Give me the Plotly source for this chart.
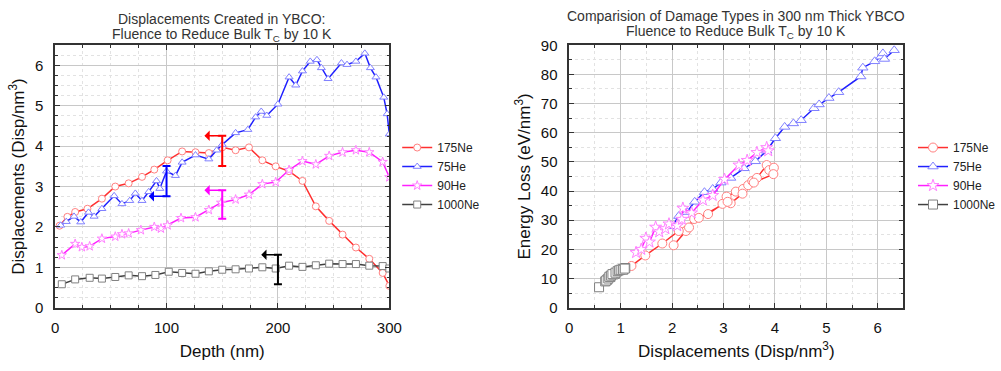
import plotly.graph_objects as go

# ---------------- Left chart data: displacements vs depth ----------------
ne175_depth = [4, 11, 18, 29, 42, 54, 66, 78, 89, 101, 114, 126, 138, 150, 162, 174, 186, 198, 210, 222, 234, 246, 258, 270, 282, 294, 300]
ne175_disp = [2.03, 2.25, 2.37, 2.45, 2.70, 3.00, 3.08, 3.24, 3.42, 3.65, 3.87, 3.85, 3.83, 3.97, 3.90, 3.97, 3.65, 3.50, 3.38, 3.14, 2.51, 2.15, 1.81, 1.49, 1.21, 0.86, 0.54]

he75_depth = [5, 10, 17, 23, 30, 35, 42, 53, 60, 67, 72, 78, 84, 91, 94, 100, 108, 114, 126, 138, 145, 150, 162, 173, 180, 185, 190, 200, 210, 216, 222, 229, 235, 239, 245, 257, 262, 270, 278, 283, 288, 295, 298, 300]
he75_disp = [2.04, 2.13, 2.26, 2.12, 2.36, 2.26, 2.45, 2.77, 2.57, 2.65, 2.83, 2.65, 2.87, 3.14, 2.95, 3.38, 3.27, 3.60, 3.78, 3.68, 3.90, 4.04, 4.33, 4.41, 4.72, 4.86, 4.76, 5.04, 5.71, 5.51, 5.86, 6.10, 6.14, 5.94, 5.67, 6.06, 6.02, 6.10, 6.30, 5.94, 5.71, 5.21, 4.80, 4.30]

he90_depth = [6, 18, 24, 31, 42, 54, 60, 66, 77, 89, 95, 101, 113, 126, 138, 149, 162, 174, 186, 198, 210, 222, 234, 246, 258, 270, 282, 294, 300]
he90_disp = [1.30, 1.58, 1.50, 1.52, 1.71, 1.76, 1.82, 1.84, 1.92, 2.00, 1.96, 2.04, 2.22, 2.24, 2.42, 2.60, 2.68, 2.80, 3.06, 3.11, 3.41, 3.63, 3.55, 3.76, 3.85, 3.90, 3.85, 3.61, 3.23]

ne1000_depth = [6, 18, 31, 42, 54, 66, 78, 90, 102, 114, 126, 138, 150, 162, 174, 186, 198, 210, 222, 234, 246, 258, 270, 282, 294, 300]
ne1000_disp = [0.58, 0.70, 0.74, 0.72, 0.76, 0.80, 0.78, 0.81, 0.89, 0.86, 0.84, 0.90, 0.94, 0.95, 0.97, 1.00, 0.97, 1.04, 1.01, 1.05, 1.09, 1.08, 1.08, 1.04, 1.03, 0.97]

# Error-bar markers with arrows (left chart)
err_x = [150, 100, 150, 200]
err_lo = [3.51, 2.76, 2.20, 0.58]
err_hi = [4.26, 3.51, 2.91, 1.31]
arrow_y = [4.26, 2.76, 2.91, 1.31]
arrow_head_x = [134, 84, 134, 185]
err_colors = ["#ff0000", "#0000ff", "#ff00ff", "#000000"]

# ---------------- Right chart data: energy loss vs displacements ----------------
ne175_rx = [2.03, 2.27, 2.33, 2.43, 2.70, 2.98, 3.06, 3.24, 3.38, 3.48, 3.56, 3.65, 3.84, 3.89, 3.98, 3.97, 3.59, 3.37, 3.14, 3.08, 2.52, 2.13, 1.81, 1.48, 1.21]
ne175_ry = [21.4, 26.3, 27.5, 30.4, 32.1, 35.6, 38.1, 39.8, 40.7, 42.0, 43.4, 44.5, 48.9, 47.2, 48.0, 45.8, 42.9, 39.1, 35.8, 36.3, 30.8, 26.3, 22.0, 17.9, 14.3]

he75_rx = [2.00, 2.13, 2.29, 2.44, 2.63, 2.79, 2.95, 3.14, 3.40, 3.62, 3.84, 4.01, 4.19, 4.36, 4.51, 4.76, 4.86, 5.05, 5.24, 5.67, 5.71, 5.94, 6.06, 6.10, 6.13, 6.32]
he75_ry = [27.9, 31.4, 32.8, 36.3, 39.6, 40.7, 42.9, 44.5, 47.8, 50.2, 53.8, 58.1, 62.0, 63.2, 64.3, 68.4, 69.7, 71.9, 73.9, 79.3, 82.3, 84.5, 86.1, 87.2, 85.3, 88.3]

he90_rx = [1.30, 1.40, 1.49, 1.56, 1.68, 1.75, 1.87, 1.94, 2.10, 2.19, 2.21, 2.38, 2.60, 2.79, 3.02, 3.30, 3.46, 3.65, 3.84, 3.87]
he90_ry = [18.9, 20.0, 23.8, 22.5, 27.6, 26.0, 27.1, 28.7, 28.1, 30.3, 34.1, 32.5, 36.9, 38.5, 44.0, 48.9, 50.5, 53.2, 54.9, 53.8]

ne1000_rx = [0.58, 0.70, 0.74, 0.72, 0.76, 0.80, 0.78, 0.81, 0.89, 0.86, 0.84, 0.90, 0.94, 0.97, 1.00, 1.04, 1.05, 1.09, 1.08]
ne1000_ry = [7.0, 9.0, 9.6, 9.3, 10.0, 10.5, 10.6, 11.0, 11.6, 11.4, 11.5, 12.0, 12.5, 12.8, 13.0, 13.3, 13.0, 13.6, 13.4]

series_names = ["175Ne", "75He", "90He", "1000Ne"]
line_colors = ["#ff3030", "#2020ff", "#ff20ff", "#404040"]
marker_edge = ["#ff8080", "#8080ff", "#ff80ff", "#808080"]
symbols = ["circle", "triangle-up", "star", "square"]

FONT = "Liberation Sans, Arial, sans-serif"
fig = go.Figure()

left_sets = [(ne175_depth, ne175_disp), (he75_depth, he75_disp), (he90_depth, he90_disp), (ne1000_depth, ne1000_disp)]
right_sets = [(ne175_rx, ne175_ry), (he75_rx, he75_ry), (he90_rx, he90_ry), (ne1000_rx, ne1000_ry)]

for i, (xs, ys) in enumerate(left_sets):
    fig.add_trace(go.Scatter(
        x=xs, y=ys, mode="lines+markers", name=series_names[i],
        line=dict(color=line_colors[i], width=1.5),
        marker=dict(symbol=symbols[i], size=7, color="white",
                    line=dict(color=marker_edge[i], width=1)),
        xaxis="x", yaxis="y", legend="legend"))

for i, (xs, ys) in enumerate(right_sets):
    fig.add_trace(go.Scatter(
        x=xs, y=ys, mode="lines+markers", name=series_names[i],
        line=dict(color=line_colors[i], width=1.5),
        marker=dict(symbol=symbols[i], size=9, color="white",
                    line=dict(color=marker_edge[i], width=1)),
        xaxis="x2", yaxis="y2", legend="legend2"))

# error bars
for i in range(len(err_x)):
    mid = (err_lo[i] + err_hi[i]) / 2
    half = (err_hi[i] - err_lo[i]) / 2
    fig.add_trace(go.Scatter(
        x=[err_x[i]], y=[mid], mode="markers", showlegend=False,
        marker=dict(size=0.1, color=err_colors[i]),
        error_y=dict(type="data", array=[half], color=err_colors[i], thickness=2, width=4),
        xaxis="x", yaxis="y", hoverinfo="skip"))
    fig.add_annotation(x=arrow_head_x[i], y=arrow_y[i], ax=err_x[i], ay=arrow_y[i],
                       xref="x", yref="y", axref="x", ayref="y", text="",
                       showarrow=True, arrowhead=1, arrowsize=1.1, arrowwidth=1.6,
                       arrowcolor=err_colors[i])

W, H = 1001, 371
ydom = [1 - 313 / H, 1 - 38 / H]

axis_common = dict(
    showline=True, linecolor="#333333", linewidth=1.5, mirror="allticks",
    ticks="inside", ticklen=5, tickwidth=1.2, tickcolor="#333333",
    showgrid=True, gridcolor="#c8c8c8", gridwidth=1, zeroline=False,
    tickfont=dict(family=FONT, size=15, color="#111111"),
    title_font=dict(family=FONT, size=17, color="#111111"),
)

minor_style = dict(ticks="inside", ticklen=3, tickcolor="#333333",
                   showgrid=True, gridcolor="#e2e2e2", griddash="dot")

fig.update_layout(
    width=W, height=H, margin=dict(l=0, r=0, t=0, b=0),
    paper_bgcolor="white", plot_bgcolor="white",
    xaxis=dict(domain=[52 / W, 392 / W], range=[0, 300], dtick=100, anchor="y",
               ticklabelstandoff=6,
               title=dict(text="Depth (nm)", standoff=10),
               minor=dict(dtick=25, **minor_style),
               **axis_common),
    yaxis=dict(domain=ydom, range=[0, 6.5], dtick=1, anchor="x",
               ticklabelstandoff=7,
               title=dict(text="Displacements (Disp/nm<sup>3</sup>)", standoff=6),
               minor=dict(dtick=0.25, **minor_style),
               **axis_common),
    xaxis2=dict(domain=[575 / W, 915 / W], range=[0, 6.5], dtick=1, anchor="y2",
                ticklabelstandoff=6,
                title=dict(text="Displacements (Disp/nm<sup>3</sup>)", standoff=10),
                minor=dict(dtick=0.5, **minor_style),
                **axis_common),
    yaxis2=dict(domain=ydom, range=[0, 90], dtick=10, anchor="x2",
                ticklabelstandoff=7,
                title=dict(text="Energy Loss (eV/nm<sup>3</sup>)", standoff=6),
                minor=dict(dtick=5, **minor_style),
                **axis_common),
    legend=dict(x=400 / W, y=1 - 130 / H, xanchor="left", yanchor="top",
                font=dict(family=FONT, size=12, color="#222222"),
                bgcolor="rgba(0,0,0,0)", itemwidth=30, tracegroupgap=0),
    legend2=dict(x=925 / W, y=1 - 130 / H, xanchor="left", yanchor="top",
                 font=dict(family=FONT, size=12, color="#222222"),
                 bgcolor="rgba(0,0,0,0)", itemwidth=30, tracegroupgap=0),
    showlegend=True,
)

title_font = dict(family=FONT, size=14, color="#333333")
titles = [
    (222, 10, "Displacements Created in YBCO:"),
    (222, 27, "Fluence to Reduce Bulk T<sub>C</sub> by 10 K"),
    (745, 7, "Comparision of Damage Types in 300 nm Thick YBCO"),
    (745, 24, "Fluence to Reduce Bulk T<sub>C</sub> by 10 K"),
]
for (px, py, txt) in titles:
    fig.add_annotation(x=px / W, y=1 - py / H, xref="paper", yref="paper",
                       text=txt, showarrow=False, font=title_font,
                       xanchor="center", yanchor="middle")

fig.write_html("out.html")
